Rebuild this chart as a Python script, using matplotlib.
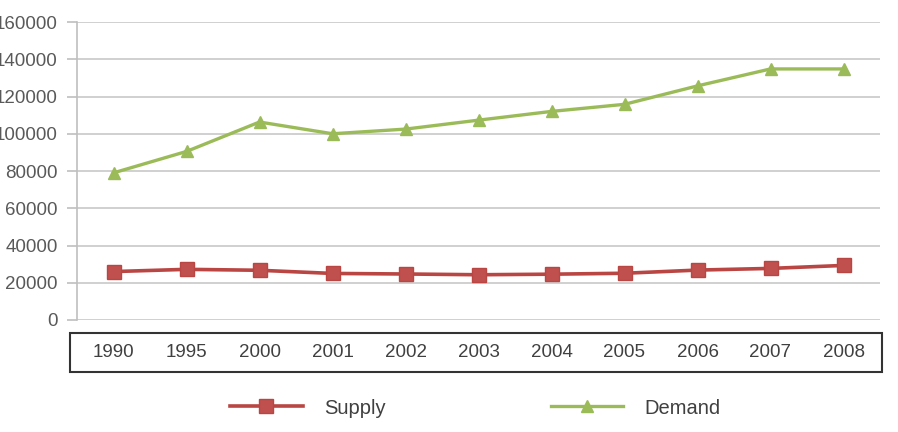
import matplotlib.pyplot as plt
from matplotlib.patches import Rectangle
from matplotlib.transforms import blended_transform_factory

# Daten
years = ["1990", "1995", "2000", "2001", "2002", "2003", "2004", "2005", "2006", "2007", "2008"]
supply = [26000, 27200, 26700, 25000, 24700, 24300, 24600, 25100, 26800, 27700, 29300]
demand = [79000, 90500, 106300, 100000, 102500, 107300, 112000, 115800, 125700, 134800, 134800]
y_ticks = [0, 20000, 40000, 60000, 80000, 100000, 120000, 140000, 160000]

plt.rcParams['font.family'] = ['Liberation Sans', 'DejaVu Sans']

W, H = 898, 432
fig = plt.figure(figsize=(W / 100, H / 100), dpi=100)
ax = fig.add_axes([77 / W, (H - 320) / H, (880 - 77) / W, 298 / H])

x = list(range(len(years)))
ax.plot(x, supply, color='#b94643', lw=2.6, marker='s', ms=10, mfc='#c0504d', mec='#b94643',
        label='Supply', zorder=3)
ax.plot(x, demand, color='#9bbb59', lw=2.4, marker='^', ms=9, mfc='#9bbb59', mec='#9bbb59',
        label='Demand', zorder=3)

ax.set_xlim(-0.5, len(years) - 0.5)
ax.set_ylim(0, 160000)
ax.set_yticks(y_ticks)
ax.set_yticklabels([str(v) for v in y_ticks], fontsize=13.5, color='#595959')
ax.tick_params(axis='y', length=7, width=1.2, color='#bfbfbf', pad=7)
ax.set_xticks([])
ax.yaxis.grid(True, color='#d0d0d0', lw=1.4)
ax.set_axisbelow(True)
for s in ['top', 'right', 'bottom']:
    ax.spines[s].set_visible(False)
ax.spines['left'].set_color('#bfbfbf')
ax.spines['left'].set_linewidth(1.2)

# Jahre im Kasten unter der Achse
tr = blended_transform_factory(ax.transData, ax.transAxes)
for i, yr in enumerate(years):
    ax.text(i, -0.108, yr, transform=tr, ha='center', va='center', fontsize=13.5, color='#404040')
fig.patches.append(Rectangle((70 / W, (H - 372) / H), (882 - 70) / W, 39 / H, transform=fig.transFigure,
                             fill=False, edgecolor='#333333', lw=1.5))

fig.legend(loc='center left', bbox_to_anchor=(212 / W, (H - 408) / H), ncol=2, frameon=False,
           fontsize=14.5, handlelength=3.6, handletextpad=1.05, columnspacing=8.2,
           labelcolor='#404040')

fig.savefig('out.png', dpi=100)
